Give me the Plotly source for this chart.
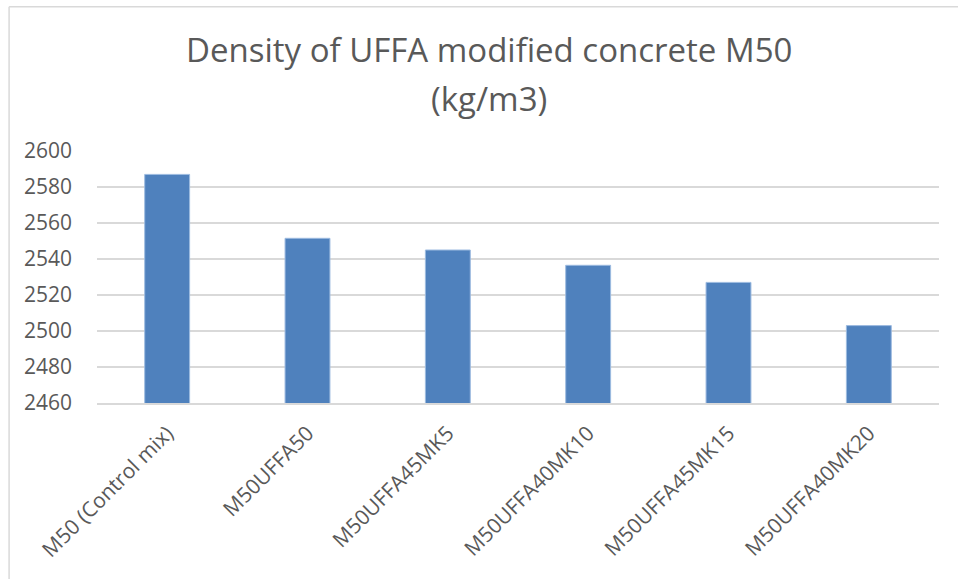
import plotly.graph_objects as go

categories = ["M50 (Control mix)", "M50UFFA50", "M50UFFA45MK5", "M50UFFA40MK10",
              "M50UFFA45MK15", "M50UFFA40MK20"]
density = [2587, 2551.5, 2545, 2536.5, 2527, 2503]
y_ticks = [2460, 2480, 2500, 2520, 2540, 2560, 2580, 2600]

title_line1 = "Density of UFFA modified concrete M50"
title_line2 = "(kg/m3)"
text_color = "#595959"
font_family = "Open Sans, Liberation Sans, sans-serif"

fig = go.Figure(
    go.Bar(
        x=categories,
        y=density,
        marker=dict(color="#4f81bd", line=dict(color="#9dbbe0", width=1)),
        width=0.32,
    )
)

fig.update_layout(
    width=958,
    height=579,
    margin=dict(l=97, r=19, t=151, b=176),
    paper_bgcolor="white",
    plot_bgcolor="white",
    showlegend=False,
    font=dict(family=font_family, color=text_color, size=20),
)

# title as two centred lines (pixel positions converted to paper coordinates)
fig.add_annotation(text=title_line1, xref="paper", yref="paper",
                   x=(489 - 97) / 842.6, y=(402.7 - 49) / 252,
                   xanchor="center", yanchor="middle", showarrow=False,
                   font=dict(family=font_family, size=33, color=text_color))
fig.add_annotation(text=title_line2, xref="paper", yref="paper",
                   x=(489 - 97) / 842.6, y=(402.7 - 98) / 252,
                   xanchor="center", yanchor="middle", showarrow=False,
                   font=dict(family=font_family, size=33, color=text_color))

fig.update_yaxes(
    range=[2460, 2600],
    tickvals=y_ticks,
    showgrid=True,
    gridcolor="#d9d9d9",
    gridwidth=1.5,
    zeroline=False,
    showline=False,
    ticks="",
    ticklabelstandoff=24,
    tickfont=dict(size=21, color=text_color),
)

fig.update_xaxes(
    tickangle=-45,
    showline=True,
    linecolor="#d9d9d9",
    linewidth=1.5,
    ticks="",
    ticklabelstandoff=8,
    tickfont=dict(size=21, color=text_color),
)

# outer chart border (top and left visible, right/bottom cropped)
fig.add_shape(type="line", xref="paper", yref="paper",
              x0=-0.1044, x1=1.03, y0=1.572, y1=1.572,
              line=dict(color="#d9d9d9", width=1.5))
fig.add_shape(type="line", xref="paper", yref="paper",
              x0=-0.1044, x1=-0.1044, y0=1.572, y1=-0.72,
              line=dict(color="#d9d9d9", width=1.5))

fig.write_html("out.html",
               config={"displayModeBar": False},
               post_script="document.body.style.margin='0';document.body.style.overflow='hidden';")
